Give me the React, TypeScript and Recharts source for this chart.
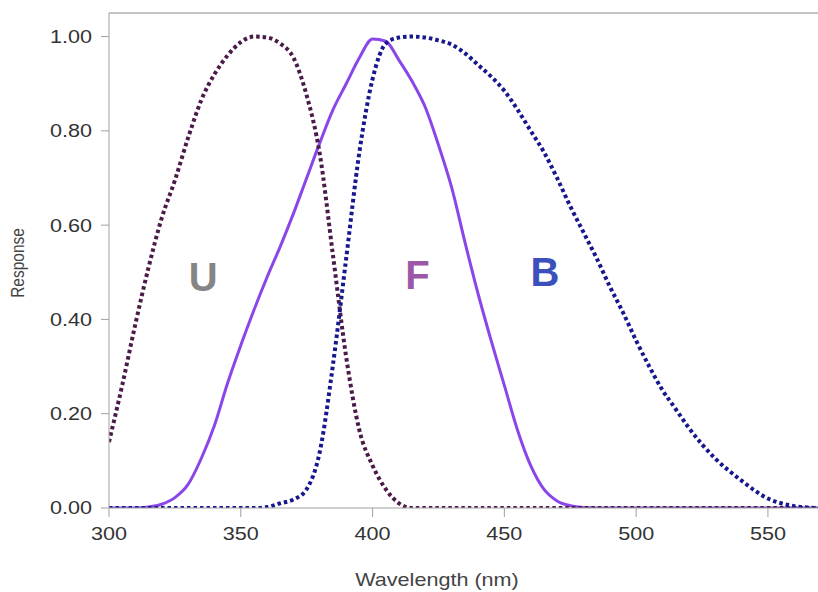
import React from 'react';
import { LineChart, Line, XAxis, YAxis, ReferenceLine, ReferenceDot } from 'recharts';

const wavelength = [
  300, 305, 310, 315, 320, 325, 330, 335, 340, 345,
  350, 355, 360, 365, 370, 375, 380, 385, 390, 395,
  400, 405, 410, 415, 420, 425, 430, 435, 440, 445,
  450, 455, 460, 465, 470, 475, 480, 485, 490, 495,
  500, 505, 510, 515, 520, 525, 530, 535, 540, 545,
  550, 555, 560, 565, 570,
];

const uResponse = [
  0.14, 0.26, 0.39, 0.51, 0.615, 0.695, 0.785, 0.865, 0.92, 0.96,
  0.988, 1.0, 0.998, 0.985, 0.955, 0.875, 0.75, 0.535, 0.32, 0.165,
  0.09, 0.04, 0.01, 0.0, 0.0, 0.0, 0.0, 0.0, 0.0, 0.0,
  0.0, 0.0, 0.0, 0.0, 0.0, 0.0, 0.0, 0.0, 0.0, 0.0,
  0.0, 0.0, 0.0, 0.0, 0.0, 0.0, 0.0, 0.0, 0.0, 0.0,
  0.0, 0.0, 0.0, 0.0, 0.0,
];

const fResponse = [
  0.0, 0.0, 0.0, 0.002, 0.008, 0.022, 0.05, 0.105, 0.175, 0.265,
  0.345, 0.42, 0.49, 0.555, 0.625, 0.7, 0.775, 0.845, 0.9, 0.955,
  0.995, 0.99, 0.95, 0.905, 0.85, 0.77, 0.68, 0.565, 0.455, 0.355,
  0.26, 0.165, 0.09, 0.04, 0.015, 0.005, 0.001, 0.0, 0.0, 0.0,
  0.0, 0.0, 0.0, 0.0, 0.0, 0.0, 0.0, 0.0, 0.0, 0.0,
  0.0, 0.0, 0.0, 0.0, 0.0,
];

const bResponse = [
  0.0, 0.0, 0.0, 0.0, 0.0, 0.0, 0.0, 0.0, 0.0, 0.0,
  0.0, 0.0, 0.002, 0.01, 0.018, 0.04, 0.12, 0.305, 0.53, 0.755,
  0.91, 0.985, 0.998, 1.0, 0.998, 0.992, 0.983, 0.965, 0.94, 0.915,
  0.885, 0.845, 0.8, 0.755, 0.7, 0.64, 0.585, 0.53, 0.47, 0.415,
  0.355, 0.3, 0.25, 0.21, 0.17, 0.135, 0.105, 0.08, 0.058, 0.037,
  0.02, 0.01, 0.004, 0.001, 0.0,
];

const xTicks = [300, 350, 400, 450, 500, 550];
const yTicks = [0, 0.2, 0.4, 0.6, 0.8, 1.0];

const bandNames = ['U', 'F', 'B'];
const bandLabelX = [335.7, 417.0, 465.4];
const bandLabelY = [0.49, 0.495, 0.5];
const bandLabelColors = ['#858585', '#9c58a8', '#3b4fbd'];

const data = wavelength.map((w, i) => ({
  w,
  U: uResponse[i],
  F: fResponse[i],
  B: bResponse[i],
}));

const FONT = 'Arial, "Liberation Sans", Helvetica, sans-serif';
const STRETCH = 1.2;

const XTick = (props: any) => {
  const { x, y, payload } = props;
  return (
    <text
      transform={`translate(${x},${y}) scale(${STRETCH},1)`}
      x={0}
      y={0}
      dy="0.71em"
      textAnchor="middle"
      fill="#333"
      fontSize={18}
      fontFamily={FONT}
    >
      {payload.value}
    </text>
  );
};

const YTick = (props: any) => {
  const { x, y, payload } = props;
  return (
    <text
      transform={`translate(${x},${y}) scale(${STRETCH},1)`}
      x={0}
      y={0}
      dy="0.36em"
      textAnchor="end"
      fill="#333"
      fontSize={18}
      fontFamily={FONT}
    >
      {Number(payload.value).toFixed(2)}
    </text>
  );
};

const XTitle = () => (
  <text
    transform={`translate(437,586) scale(${STRETCH},1)`}
    x={0}
    y={0}
    textAnchor="middle"
    fill="#444"
    fontSize={18}
    fontFamily={FONT}
  >
    Wavelength (nm)
  </text>
);

const YTitle = () => (
  <text
    transform={`translate(24,263) scale(${STRETCH},1) rotate(-90)`}
    x={0}
    y={0}
    textAnchor="middle"
    fill="#444"
    fontSize={15.5}
    fontFamily={FONT}
  >
    Response
  </text>
);

export default function App() {
  return (
    <div style={{ position: 'fixed', left: 0, top: 0, width: 818, height: 592, background: '#fff' }}>
      <LineChart
        width={818}
        height={592}
        data={data}
        margin={{ top: 13, right: 0, bottom: 0, left: 0 }}
      >
        <XAxis
          dataKey="w"
          type="number"
          domain={[300, 569]}
          allowDataOverflow
          ticks={xTicks}
          height={84}
          stroke="#a0a0a0"
          tickSize={9}
          tickMargin={10}
          tick={<XTick />}
          label={{ content: () => <XTitle /> }}
        />
        <YAxis
          type="number"
          domain={[0, 1.05]}
          allowDataOverflow
          ticks={yTicks}
          width={109}
          stroke="#a0a0a0"
          tickSize={8}
          tickMargin={9}
          tick={<YTick />}
          label={{ content: () => <YTitle /> }}
        />
        <ReferenceLine y={1.05} stroke="#b0b0b0" strokeWidth={1.5} />
        <Line
          dataKey="F"
          type="monotone"
          stroke="#8a46e8"
          strokeWidth={3}
          dot={false}
          isAnimationActive={false}
        />
        <Line
          dataKey="U"
          type="monotone"
          stroke="#4a1a48"
          strokeWidth={4}
          strokeDasharray="3.5 3"
          dot={false}
          isAnimationActive={false}
        />
        <Line
          dataKey="B"
          type="monotone"
          stroke="#17178f"
          strokeWidth={4}
          strokeDasharray="3.5 3"
          dot={false}
          isAnimationActive={false}
        />
        {bandNames.map((name, i) => (
          <ReferenceDot
            key={name}
            x={bandLabelX[i]}
            y={bandLabelY[i]}
            r={0}
            fill="none"
            stroke="none"
            label={{
              value: name,
              position: 'center',
              fill: bandLabelColors[i],
              fontSize: 40,
              fontWeight: 'bold',
              fontFamily: FONT,
            }}
          />
        ))}
      </LineChart>
    </div>
  );
}
